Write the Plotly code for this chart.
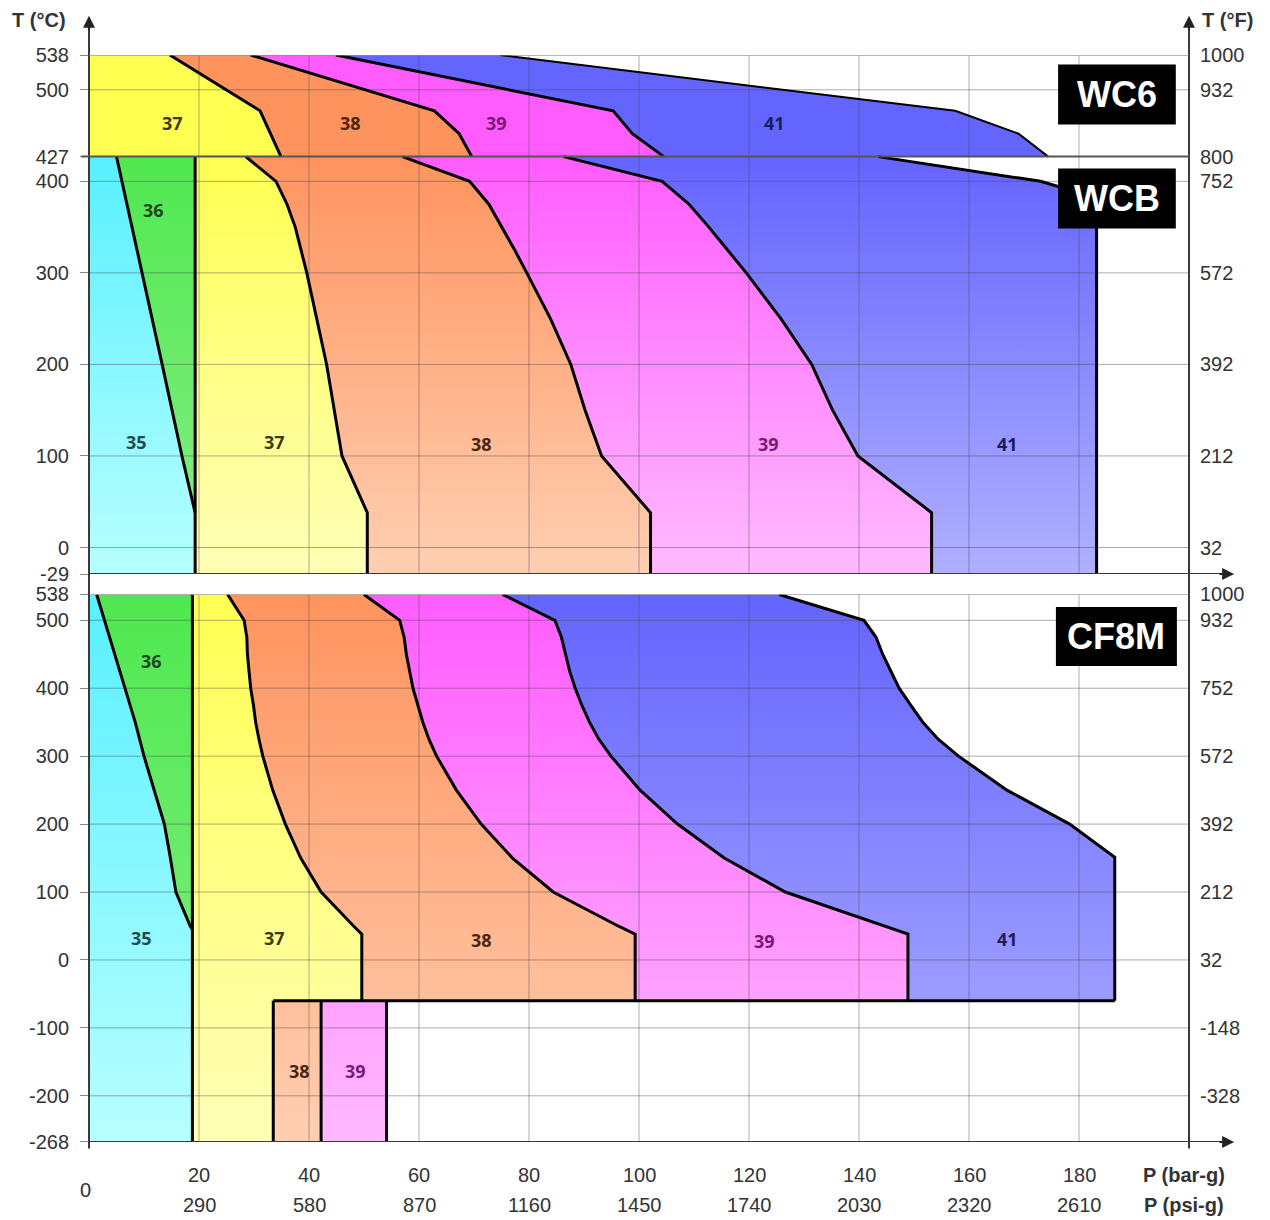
import plotly.graph_objects as go

# ------------------------------------------------------------------ data
# Pressure axis (bar-g) and matching psi-g labels
P_TICKS = [20, 40, 60, 80, 100, 120, 140, 160, 180]
PSI_LABELS = ["290", "580", "870", "1160", "1450", "1740", "2030", "2320", "2610"]

# Temperature ticks (°C) and right-hand °F labels
TOP_T_TICKS = [538, 500, 427, 400, 300, 200, 100, 0, -29]
TOP_F_VALS = [538, 500, 427, 400, 300, 200, 100, 0]
TOP_F_LABELS = ["1000", "932", "800", "752", "572", "392", "212", "32"]
BOT_T_TICKS = [538, 500, 400, 300, 200, 100, 0, -100, -200, -268]
BOT_F_VALS = [538, 500, 400, 300, 200, 100, 0, -100, -200]
BOT_F_LABELS = ["1000", "932", "752", "572", "392", "212", "32", "-148", "-328"]

# ---- WC6 (427..538 °C)
wc6_T = [538, 477, 452, 427]
wc6_b37_38 = [14.7, 31.1, 33.0, 34.9]
wc6_b38_39 = [29.4, 62.8, 67.3, 69.6]
wc6_b39_41 = [44.9, 95.3, 98.8, 104.5]
wc6_b41_max = [74.7, 157.5, 169.0, 174.4]

# ---- WCB (-29..427 °C)
wcb_b35_36_T = [427, 300, 200, 100, 38]
wcb_b35_36_P = [5.0, 9.7, 13.3, 16.9, 19.3]
wcb_b36_37_P = 19.3
wcb_b37_38_T = [427, 400, 375, 350, 300, 200, 100, 38, -29]
wcb_b37_38_P = [28.5, 34.0, 36.0, 37.5, 39.6, 43.2, 46.0, 50.6, 50.6]
wcb_b38_39_T = [427, 400, 375, 350, 325, 300, 250, 200, 150, 100, 38, -29]
wcb_b38_39_P = [57.0, 69.2, 72.7, 75.1, 77.4, 79.6, 83.9, 87.6, 90.2, 93.2, 102.1, 102.1]
wcb_b39_41_T = [427, 400, 375, 350, 325, 300, 250, 200, 150, 100, 38, -29]
wcb_b39_41_P = [86.3, 104.2, 109.1, 112.7, 116.1, 119.5, 125.8, 131.4, 135.2, 139.8, 153.2, 153.2]
wcb_b41_max_T = [427, 400, 382, -29]
wcb_b41_max_P = [143.5, 173.0, 183.2, 183.2]

# ---- CF8M (-268..538 °C)
cf_b35_36_T = [538, 500, 450, 400, 350, 300, 250, 200, 150, 100, 50, 45]
cf_b35_36_P = [1.4, 2.8, 4.6, 6.5, 8.4, 10.0, 11.9, 13.7, 14.8, 15.8, 18.4, 18.8]
cf_b36_37_P = 18.8
cf_T = [538, 500, 475, 450, 425, 400, 375, 350, 325, 300, 250, 200, 150, 100, 50, 38, -60]
cf_b37_38_P = [25.2, 28.2, 28.7, 28.8, 29.1, 29.4, 29.9, 30.3, 30.9, 31.6, 33.4, 35.7, 38.5, 42.2, 48.1, 49.6, 49.6]
cf_b38_39_P = [50.0, 56.5, 57.3, 57.7, 58.3, 58.9, 59.8, 60.7, 61.8, 63.2, 66.8, 71.3, 77.0, 84.4, 96.2, 99.3, 99.3]
cf_b39_41_P = [75.2, 84.7, 85.9, 86.6, 87.4, 88.4, 89.6, 91.0, 92.7, 94.9, 100.2, 107.0, 115.5, 126.6, 144.3, 148.9, 148.9]
cf_b41_max_T = [538, 500, 475, 450, 425, 400, 375, 350, 325, 300, 250, 200, 151, -60]
cf_b41_max_P = [125.5, 140.9, 143.1, 144.3, 145.8, 147.3, 149.4, 151.6, 154.4, 158.1, 166.9, 178.3, 186.5, 186.5]
cf_low_T = [-60, -268]                 # low-temperature strips
cf_low_edges = [33.5, 42.2, 54.1]      # 37|38 | 38|39 | 39 right edge

# ------------------------------------------------------------------ style
DARK = {"35": "#58f0ff", "36": "#50e850", "37": "#ffff52", "38": "#ff935e",
        "39": "#ff5cff", "41": "#6464ff"}
LIGHT = {"35": "#b8ffff", "36": "#86ee86", "37": "#ffffb8", "38": "#ffcfb2",
         "39": "#ffbaff", "41": "#b0b0ff"}
LABEL_COL = {"35": "#1e4c55", "36": "#1d4a1d", "37": "#3a3a0e", "38": "#4a260e",
             "39": "#7a1878", "41": "#1c1c5c"}
AX_FONT = "Liberation Sans, Arial, sans-serif"
TXT = "#333333"
TOP_RANGE = [-29, 538]
BOT_RANGE = [-268, 538]
X_RANGE = [0, 200]
TOP_GRAD = [-29, 427]
BOT_GRAD = [-268, 538]

fig = go.Figure()


def pts(P, T):
    if not isinstance(P, (list, tuple)):
        P = [P] * len(T)
    return list(zip(P, T))


def band(left, right):
    xs = [p for p, t in right] + [p for p, t in reversed(left)]
    ys = [t for p, t in right] + [t for p, t in reversed(left)]
    return xs + [xs[0]], ys + [ys[0]]


def add_fill(poly, key, yax, rng):
    xs, ys = poly
    fig.add_trace(go.Scatter(
        x=xs, y=ys, mode="lines", line=dict(width=0, color="rgba(0,0,0,0)"),
        fill="toself",
        fillgradient=dict(type="vertical", colorscale=[[0, LIGHT[key]], [1, DARK[key]]],
                          start=rng[0], stop=rng[1]),
        xaxis="x", yaxis=yax, hoverinfo="skip", showlegend=False))


def add_lines(curves, yax, width=3):
    xs, ys = [], []
    for c in curves:
        xs += [p for p, t in c] + [None]
        ys += [t for p, t in c] + [None]
    fig.add_trace(go.Scatter(x=xs, y=ys, mode="lines",
                             line=dict(color="black", width=width),
                             xaxis="x", yaxis=yax, hoverinfo="skip", showlegend=False))


# ---- WC6 fills
w_zero = pts(0, wc6_T)
w37 = pts(wc6_b37_38, wc6_T)
w38 = pts(wc6_b38_39, wc6_T)
w39 = pts(wc6_b39_41, wc6_T)
w41 = pts(wc6_b41_max, wc6_T)
add_fill(band(w_zero, w37), "37", "y", TOP_GRAD)
add_fill(band(w37, w38), "38", "y", TOP_GRAD)
add_fill(band(w38, w39), "39", "y", TOP_GRAD)
add_fill(band(w39, w41), "41", "y", TOP_GRAD)

# ---- WCB fills
b150 = pts(wcb_b35_36_P, wcb_b35_36_T)
b_v19 = pts(wcb_b36_37_P, [427, -29])
b_zero = pts(0, [427, -29])
b300 = pts(wcb_b37_38_P, wcb_b37_38_T)
b600 = pts(wcb_b38_39_P, wcb_b38_39_T)
b900 = pts(wcb_b39_41_P, wcb_b39_41_T)
bmax = pts(wcb_b41_max_P, wcb_b41_max_T)
add_fill(band(b_zero, b150 + [(wcb_b36_37_P, -29)]), "35", "y", TOP_GRAD)
add_fill(band(b150, pts(wcb_b36_37_P, [427, wcb_b35_36_T[-1]])), "36", "y", TOP_GRAD)
add_fill(band(b_v19, b300), "37", "y", TOP_GRAD)
add_fill(band(b300, b600), "38", "y", TOP_GRAD)
add_fill(band(b600, b900), "39", "y", TOP_GRAD)
add_fill(band(b900, bmax), "41", "y", TOP_GRAD)

# ---- CF8M fills
c150 = pts(cf_b35_36_P, cf_b35_36_T)
c_zero = pts(0, [538, -268])
c_v19 = pts(cf_b36_37_P, [538, -268])
c300 = pts(cf_b37_38_P, cf_T)
c600 = pts(cf_b38_39_P, cf_T)
c900 = pts(cf_b39_41_P, cf_T)
cmax = pts(cf_b41_max_P, cf_b41_max_T)
add_fill(band(c_zero, c150 + [(cf_b36_37_P, -268)]), "35", "y2", BOT_GRAD)
add_fill(band(c150, pts(cf_b36_37_P, [538, cf_b35_36_T[-1]])), "36", "y2", BOT_GRAD)
add_fill(band(c_v19, c300 + [(cf_low_edges[0], cf_low_T[0]), (cf_low_edges[0], cf_low_T[1])]),
         "37", "y2", BOT_GRAD)
add_fill(band(c300, c600), "38", "y2", BOT_GRAD)
add_fill(band(c600, c900), "39", "y2", BOT_GRAD)
add_fill(band(c900, cmax), "41", "y2", BOT_GRAD)
add_fill(band(pts(cf_low_edges[0], cf_low_T), pts(cf_low_edges[1], cf_low_T)), "38", "y2", BOT_GRAD)
add_fill(band(pts(cf_low_edges[1], cf_low_T), pts(cf_low_edges[2], cf_low_T)), "39", "y2", BOT_GRAD)


# ---- grid lines (drawn over the fills)
def add_grid(tvals, rng, yax):
    xs, ys = [], []
    for p in P_TICKS:
        xs += [p, p, None]
        ys += [rng[0], rng[1], None]
    for t in tvals:
        if t in (rng[0], 427):
            continue
        xs += [X_RANGE[0], X_RANGE[1], None]
        ys += [t, t, None]
    fig.add_trace(go.Scatter(x=xs, y=ys, mode="lines",
                             line=dict(color="rgba(70,70,70,0.45)", width=1),
                             xaxis="x", yaxis=yax, hoverinfo="skip", showlegend=False))


add_grid(TOP_T_TICKS, TOP_RANGE, "y")
add_grid(BOT_T_TICKS, BOT_RANGE, "y2")

# ---- boundary lines
add_lines([w37, w38, w39], "y")
add_lines([w41], "y", width=2)
add_lines([b150, b_v19, b300, b600, b900, bmax], "y")
low_lines = [pts(e, cf_low_T) for e in cf_low_edges]
add_lines([c150, c_v19, c300, c600, c900, cmax,
           [(cf_low_edges[0], cf_low_T[0]), (cf_b41_max_P[-1], cf_low_T[0])]] + low_lines, "y2")

# ------------------------------------------------------------------ layout
TOP_DOM = [0.5225, 1.0]
BOT_DOM = [0.0, 0.5037]
AXC = "#3a3a3a"
TICKF = dict(family=AX_FONT, size=20, color=TXT)

fig.update_layout(
    width=1262, height=1212,
    margin=dict(l=81, r=81, t=47, b=78),
    paper_bgcolor="white", plot_bgcolor="white",
    showlegend=False,
    xaxis=dict(range=X_RANGE, domain=[0, 1], anchor="y2", showgrid=False, zeroline=False,
               showticklabels=False, showline=False, ticks=""),
    yaxis=dict(range=TOP_RANGE, domain=TOP_DOM, anchor="x", showgrid=False, zeroline=False,
               tickmode="array", tickvals=TOP_T_TICKS, ticktext=[str(v) for v in TOP_T_TICKS],
               ticks="outside", ticklen=8, tickcolor="#888", tickwidth=1, ticklabelstandoff=7,
               tickfont=TICKF, showline=False),
    yaxis2=dict(range=BOT_RANGE, domain=BOT_DOM, anchor="x", showgrid=False, zeroline=False,
                tickmode="array", tickvals=BOT_T_TICKS, ticktext=[str(v) for v in BOT_T_TICKS],
                ticks="outside", ticklen=8, tickcolor="#888", tickwidth=1, ticklabelstandoff=7,
                tickfont=TICKF, showline=False),
)

shapes = []
# vertical axes (left and right), continuous through the gap
for xp in (0, 1):
    shapes.append(dict(type="line", xref="paper", yref="paper", x0=xp, x1=xp, y0=-0.006, y1=1.03,
                       line=dict(color=AXC, width=2)))
# horizontal axes at the bottom of each panel
shapes.append(dict(type="line", xref="paper", yref="y", x0=0, x1=1.035, y0=TOP_RANGE[0], y1=TOP_RANGE[0],
                   line=dict(color=AXC, width=2)))
shapes.append(dict(type="line", xref="paper", yref="y2", x0=0, x1=1.035, y0=BOT_RANGE[0], y1=BOT_RANGE[0],
                   line=dict(color=AXC, width=2)))
# WC6 / WCB separator at 427 °C
shapes.append(dict(type="line", xref="paper", yref="y", x0=-0.007, x1=1, y0=427, y1=427,
                   line=dict(color="#555", width=2)))
# top gridlines of the panels
for yr in ("y", "y2"):
    shapes.append(dict(type="line", xref="paper", yref=yr, x0=0, x1=1, y0=538, y1=538,
                       line=dict(color="#999", width=1)))
# material badges
badges = [("WC6", "y", 176.2, 197.6, 462.0, 527.6),
          ("WCB", "y", 176.2, 197.6, 348.6, 414.1),
          ("CF8M", "y2", 175.8, 197.8, 432.6, 519.6)]
for name, yr, x0, x1, y0, y1 in badges:
    shapes.append(dict(type="rect", xref="x", yref=yr, x0=x0, x1=x1, y0=y0, y1=y1,
                       fillcolor="black", line=dict(width=0), layer="above"))
fig.update_layout(shapes=shapes)

ann = []
for name, yr, x0, x1, y0, y1 in badges:
    ann.append(dict(x=(x0 + x1) / 2, y=(y0 + y1) / 2, xref="x", yref=yr, text=f"<b>{name}</b>",
                    xanchor="center", yanchor="middle", showarrow=False,
                    font=dict(family="Liberation Sans, Arial", size=36, color="white")))

# arrowheads
for xp in (0, 1):
    ann.append(dict(x=xp, y=1.036, xref="paper", yref="paper", text="", showarrow=True,
                    ax=0, ay=16, arrowhead=2, arrowsize=1.2, arrowwidth=2, arrowcolor="#222"))
for yr, yv in (("y", TOP_RANGE[0]), ("y2", BOT_RANGE[0])):
    ann.append(dict(x=1.041, y=yv, xref="paper", yref=yr, text="", showarrow=True,
                    ax=-16, ay=0, arrowhead=2, arrowsize=1.2, arrowwidth=2, arrowcolor="#222"))

# axis titles
TF = dict(family=AX_FONT, size=20, color=TXT)
titles = [("<b>T (°C)</b>", -0.0455, 1.032), ("<b>T (°F)</b>", 1.035, 1.032),
          ("<b>P (bar-g)</b>", 0.995, -0.0304), ("<b>P (psi-g)</b>", 0.995, -0.058)]
for txt, xp, yp in titles:
    ann.append(dict(x=xp, y=yp, xref="paper", yref="paper", text=txt, showarrow=False,
                    xanchor="center", yanchor="middle", font=TF))

# x tick labels (two rows)
for p, psi in zip(P_TICKS, PSI_LABELS):
    ann.append(dict(x=p, y=-0.0304, xref="x", yref="paper", text=str(p), showarrow=False,
                    xanchor="center", yanchor="middle", font=TICKF))
    ann.append(dict(x=p, y=-0.058, xref="x", yref="paper", text=psi, showarrow=False,
                    xanchor="center", yanchor="middle", font=TICKF))
ann.append(dict(x=-0.0036, y=-0.0442, xref="paper", yref="paper", text="0", showarrow=False,
                xanchor="center", yanchor="middle", font=TICKF))

# right-hand °F labels
for v, lab in zip(TOP_F_VALS, TOP_F_LABELS):
    ann.append(dict(x=1.008, y=v, xref="paper", yref="y", text=lab, xanchor="left",
                    yanchor="middle", showarrow=False, font=TICKF))
for v, lab in zip(BOT_F_VALS, BOT_F_LABELS):
    ann.append(dict(x=1.008, y=v, xref="paper", yref="y2", text=lab, xanchor="left",
                    yanchor="middle", showarrow=False, font=TICKF))

# region numbers
region_labels = [
    ("37", 15.1, 464, "y"), ("38", 47.5, 464, "y"), ("39", 74.0, 464, "y"), ("41", 124.7, 464, "y"),
    ("35", 8.7, 115, "y"), ("36", 11.8, 369, "y"), ("37", 33.8, 115, "y"), ("38", 71.3, 113, "y"),
    ("39", 123.6, 113, "y"), ("41", 167.0, 113, "y"),
    ("35", 9.6, 33, "y2"), ("36", 11.3, 440, "y2"), ("37", 33.8, 33, "y2"), ("38", 71.3, 30, "y2"),
    ("39", 122.9, 28, "y2"), ("41", 167.0, 31, "y2"), ("38", 38.2, -163, "y2"), ("39", 48.4, -163, "y2"),
]
for key, px, ty, yr in region_labels:
    ann.append(dict(x=px, y=ty, xref="x", yref=yr, text=f"<b>{key}</b>", showarrow=False,
                    xanchor="center", yanchor="middle",
                    font=dict(family="Open Sans, Liberation Sans, sans-serif", size=18,
                              color=LABEL_COL[key])))

fig.update_layout(annotations=ann)
fig.write_html("out.html")
